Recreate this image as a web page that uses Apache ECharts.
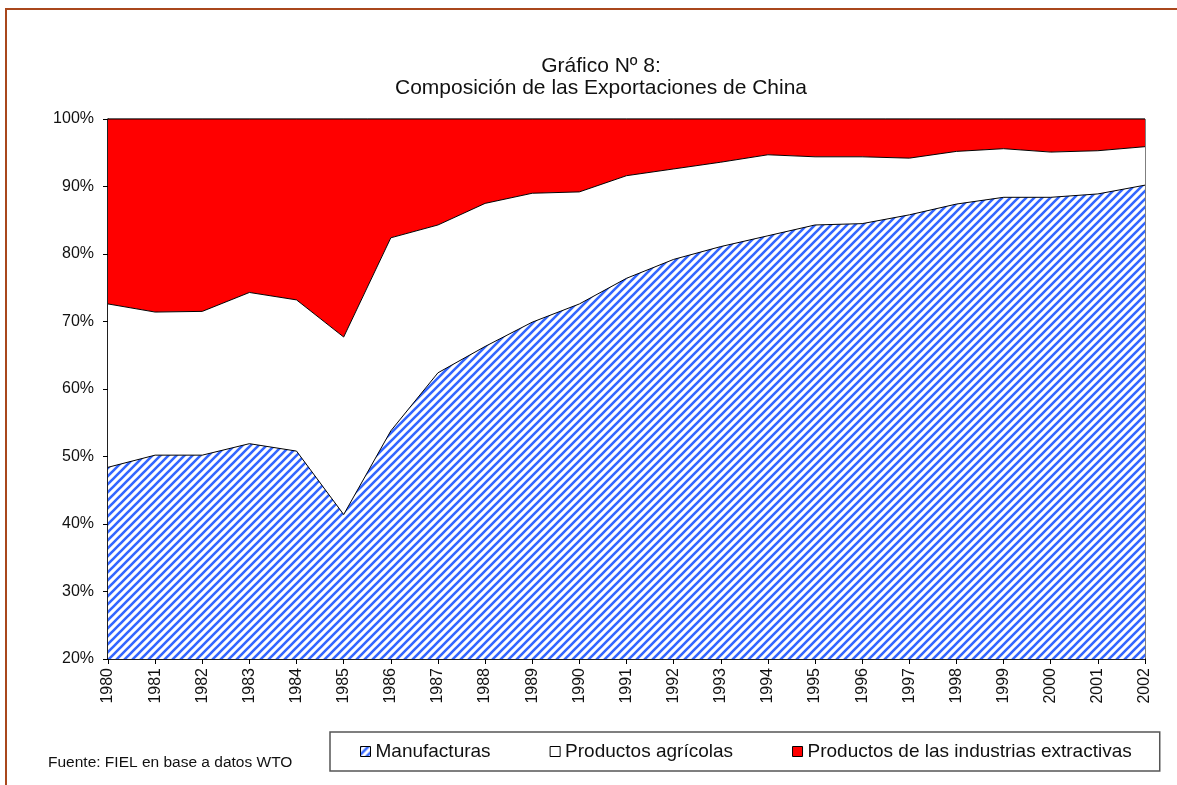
<!DOCTYPE html>
<html>
<head>
<meta charset="utf-8">
<script src="https://cdn.jsdelivr.net/npm/echarts@6/dist/echarts.min.js"></script>
<style>
html,body{margin:0;padding:0;background:#fff;}
#c{width:1177px;height:785px;}
</style>
</head>
<body>
<div id="c"></div>
<script>
var years = ['1980','1981','1982','1983','1984','1985','1986','1987','1988','1989','1990','1991','1992','1993','1994','1995','1996','1997','1998','1999','2000','2001','2002'];
var manufacturas = [48.4, 50.2, 50.2, 51.9, 50.8, 41.4, 53.8, 62.4, 66.3, 69.9, 72.6, 76.4, 79.2, 81.1, 82.7, 84.3, 84.5, 85.8, 87.4, 88.4, 88.4, 88.9, 90.2];
var agricolas = [24.2, 21.2, 21.3, 22.4, 22.4, 26.3, 28.6, 21.9, 21.2, 19.1, 16.6, 15.2, 13.4, 12.5, 12.0, 10.1, 9.9, 8.4, 7.8, 7.2, 6.7, 6.4, 5.7];
var extractivas = [27.4, 28.6, 28.5, 25.7, 26.8, 32.3, 17.6, 15.7, 12.5, 11.0, 10.8, 8.4, 7.4, 6.4, 5.3, 5.6, 5.6, 5.8, 4.8, 4.4, 4.9, 4.7, 4.1];
var seriesNames = ['Manufacturas', 'Productos agrícolas', 'Productos de las industrias extractivas'];
var titleLines = ['Gráfico Nº 8:', 'Composición de las Exportaciones de China'];
var sourceText = 'Fuente: FIEL en base a datos WTO';

function hatch() {
  var cv = document.createElement('canvas');
  cv.width = 8; cv.height = 8;
  var ctx = cv.getContext('2d');
  ctx.fillStyle = '#ffffff';
  ctx.fillRect(0, 0, 8, 8);
  ctx.strokeStyle = '#3366ff';
  ctx.lineWidth = 2.6;
  ctx.beginPath();
  ctx.moveTo(-1, 1); ctx.lineTo(1, -1);
  ctx.moveTo(0, 8); ctx.lineTo(8, 0);
  ctx.moveTo(7, 9); ctx.lineTo(9, 7);
  ctx.stroke();
  return cv;
}
var hatchColor = { image: hatch(), repeat: 'repeat' };
var font = '"Liberation Sans", Arial, sans-serif';

var chart = echarts.init(document.getElementById('c'), null, { renderer: 'canvas' });
chart.setOption({
  backgroundColor: '#fff',
  animation: false,
  title: {
    text: titleLines.join('\n'),
    left: 596,
    top: 50,
    textAlign: 'center',
    textStyle: { fontFamily: font, fontSize: 21, fontWeight: 'normal', color: '#111', lineHeight: 22 }
  },
  legend: {
    left: 330,
    top: 732,
    orient: 'horizontal',
    padding: [10, 28, 10, 30],
    itemGap: 59,
    itemWidth: 10,
    itemHeight: 10,
    icon: 'rect',
    borderColor: '#555',
    borderWidth: 1.5,
    textStyle: { fontFamily: font, fontSize: 19, color: '#111' },
    data: [
      { name: seriesNames[0], itemStyle: { color: hatchColor, borderColor: '#000', borderWidth: 1 } },
      { name: seriesNames[1], itemStyle: { color: '#fff', borderColor: '#000', borderWidth: 1 } },
      { name: seriesNames[2], itemStyle: { color: '#ff0000', borderColor: '#000', borderWidth: 1 } }
    ]
  },
  grid: { left: 108, right: 32, top: 119, bottom: 126, show: true, borderColor: '#000', borderWidth: 1, backgroundColor: 'transparent' },
  xAxis: {
    type: 'category',
    data: years,
    boundaryGap: false,
    axisLine: { lineStyle: { color: '#000', width: 1.5 } },
    axisTick: { show: true, inside: false, length: 5, lineStyle: { color: '#000' } },
    axisLabel: { rotate: 90, margin: 9, fontFamily: font, fontSize: 16, color: '#111', interval: 0 },
    splitLine: { show: false }
  },
  yAxis: {
    type: 'value',
    min: 20,
    max: 100,
    interval: 10,
    axisLine: { show: true, lineStyle: { color: '#000', width: 1.5 } },
    axisTick: { show: true, inside: false, length: 5, lineStyle: { color: '#000' } },
    axisLabel: { formatter: '{value}%', margin: 14, fontFamily: font, fontSize: 16, color: '#111' },
    splitLine: { show: false }
  },
  series: [
    {
      name: seriesNames[0], type: 'line', stack: 'total', data: manufacturas, z: 4,
      showSymbol: false, symbol: 'none',
      itemStyle: { color: hatchColor },
      lineStyle: { color: '#000', width: 1 },
      areaStyle: { color: hatchColor, opacity: 1 }
    },
    {
      name: seriesNames[1], type: 'line', stack: 'total', data: agricolas, z: 3,
      showSymbol: false, symbol: 'none',
      itemStyle: { color: '#fff' },
      lineStyle: { color: '#000', width: 1 },
      areaStyle: { color: '#fff', opacity: 1 }
    },
    {
      name: seriesNames[2], type: 'line', stack: 'total', data: extractivas, z: 2,
      showSymbol: false, symbol: 'none',
      itemStyle: { color: '#ff0000' },
      lineStyle: { color: '#000', width: 1 },
      areaStyle: { color: '#ff0000', opacity: 1 }
    }
  ],
  graphic: [
    { type: 'rect', shape: { x: 5, y: 8, width: 1172, height: 2 }, style: { fill: '#a9471c' }, silent: true },
    { type: 'rect', shape: { x: 5, y: 8, width: 2, height: 777 }, style: { fill: '#a9471c' }, silent: true },
    { type: 'text', left: 48, top: 755, style: { text: sourceText, fontFamily: font, fontSize: 15.5, fill: '#111' }, silent: true }
  ]
});
</script>
</body>
</html>
